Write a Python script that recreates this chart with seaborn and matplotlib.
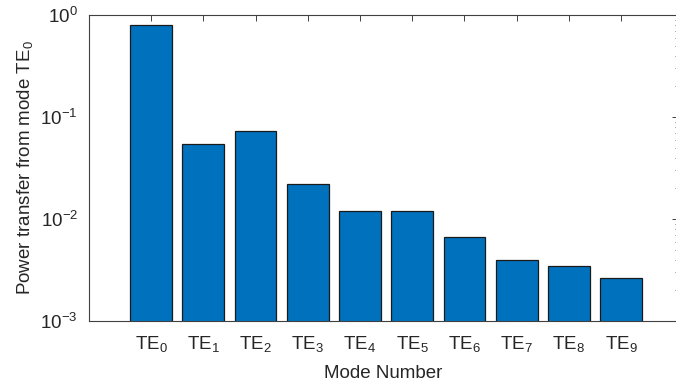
import matplotlib
matplotlib.use("Agg")
import matplotlib.pyplot as plt
import seaborn as sns
import pandas as pd
from matplotlib.ticker import LogLocator

modes = [r"TE$_%d$" % i for i in range(10)]
power = [0.80, 0.054, 0.0734, 0.0219, 0.0121, 0.0119, 0.0067, 0.0040, 0.00347, 0.00264]

sns.set_theme(style="white")
plt.rcParams["font.family"] = ["Liberation Sans", "DejaVu Sans"]
plt.rcParams["mathtext.fontset"] = "custom"
plt.rcParams["mathtext.rm"] = "Liberation Sans"
plt.rcParams["mathtext.it"] = "Liberation Sans"
plt.rcParams["mathtext.default"] = "regular"

df = pd.DataFrame({"mode": modes, "power": power})

fig = plt.figure(figsize=(6.76, 3.88), dpi=100)
ax = fig.add_axes([89/676, 1-321/388, (678-89)/676, (321-15)/388])
sns.barplot(data=df, x="mode", y="power", color="#0072BD", saturation=1,
            edgecolor="#1a1a1a", linewidth=0.9, width=0.8, ax=ax)
ax.set_yscale("log")
ax.set_ylim(1e-3, 1)
ax.set_xlim(-1.19, 10.09)
ax.yaxis.set_major_locator(LogLocator(base=10, numticks=10))
ax.yaxis.set_minor_locator(LogLocator(base=10, subs=range(2, 10), numticks=20))

gray = "#262626"
for s in ax.spines.values():
    s.set_visible(True)
    s.set_color("#404040")
    s.set_linewidth(0.8)
ax.tick_params(axis="both", which="both", direction="in", top=True, right=True,
               colors="#404040", labelcolor=gray, labelsize=13.5)
ax.tick_params(axis="both", which="major", length=4, width=0.7)
ax.tick_params(axis="y", which="minor", length=2.5, width=0.6)
ax.tick_params(axis="x", pad=9)
ax.tick_params(axis="y", pad=8)
ax.set_xlabel("Mode Number", fontsize=13.5, color=gray, labelpad=8)
ax.set_ylabel(r"Power transfer from mode TE$_0$", fontsize=13.5, color=gray, labelpad=4)
ax.grid(False)

fig.savefig("out.png", dpi=100)
